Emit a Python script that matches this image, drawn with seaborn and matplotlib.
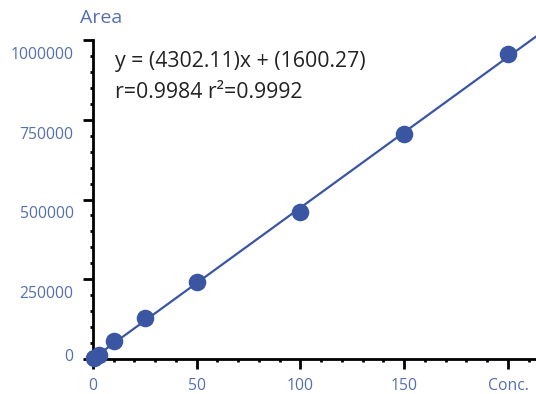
import numpy as np
import pandas as pd
import matplotlib
matplotlib.use("Agg")
import matplotlib.pyplot as plt
import seaborn as sns
from matplotlib.ticker import MultipleLocator
from matplotlib.transforms import ScaledTranslation

# calibration points
conc = [0.5, 3, 10, 25, 50, 100, 150, 200]
area = [2000, 12000, 56000, 128000, 240000, 460000, 706000, 956000]

x_ticks = [0, 50, 100, 150, 200]
x_labels = ["0", "50", "100", "150", "Conc."]
y_ticks = [0, 250000, 500000, 750000, 1000000]
y_labels = ["0", "250000", "500000", "750000", "1000000"]

equation = "y = (4302.11)x + (1600.27)"
stats = "r=0.9984 r\u00b2=0.9992"

BLUE = "#3a56a2"
LABEL = "#5670ad"

sns.set_style("white")
plt.rcParams["font.family"] = ["Open Sans", "DejaVu Sans"]

df = pd.DataFrame({"Conc": conc, "Area": area})

fig = plt.figure(figsize=(5.36, 3.94), dpi=100)
ax = fig.add_axes([93 / 536, 35 / 394, 1 - 93 / 536, 319 / 394])
ax.set_xlim(0, 213.5)
ax.set_ylim(0, 1000000)

sns.regplot(
    data=df, x="Conc", y="Area", ax=ax, ci=None, truncate=False,
    color=BLUE,
    scatter_kws={"s": 160, "clip_on": False, "zorder": 5, "alpha": 1, "linewidths": 0},
    line_kws={"lw": 1.6, "clip_on": False},
)

ax.set_xlim(0, 213.5)
ax.set_ylim(0, 1000000)

for side in ["top", "right"]:
    ax.spines[side].set_visible(False)
for side in ["left", "bottom"]:
    ax.spines[side].set_color("black")
    ax.spines[side].set_linewidth(2)

ax.set_xticks(x_ticks)
ax.set_xticklabels(x_labels)
ax.set_yticks(y_ticks)
ax.set_yticklabels(y_labels)
ax.xaxis.set_minor_locator(MultipleLocator(10))
ax.yaxis.set_minor_locator(MultipleLocator(50000))

ax.tick_params(which="major", direction="out", length=7, width=2, color="black",
               labelsize=11.3, labelcolor=LABEL, pad=7)
ax.tick_params(which="minor", direction="out", length=2.5, width=2, color="black")
ax.tick_params(axis="x", which="both", bottom=True)
ax.tick_params(axis="y", which="both", left=True)

# y labels sit a bit below their ticks in the original, the zero a bit above
for lab, val in zip(ax.get_yticklabels(), y_ticks):
    dy = 0.04 if val == 0 else -0.13
    lab.set_transform(lab.get_transform() + ScaledTranslation(0, dy, fig.dpi_scale_trans))

ax.set_xlabel("")
ax.set_ylabel("")

fig.text(80 / 536, 1 - 18 / 394, "Area", color=LABEL, fontsize=14, va="center", ha="left")
fig.text(115 / 536, 1 - 62 / 394, equation, color="#222222", fontsize=15.3, va="center", ha="left")
fig.text(115 / 536, 1 - 93 / 394, stats, color="#222222", fontsize=15.3, va="center", ha="left")

fig.savefig("out.png", dpi=100)
